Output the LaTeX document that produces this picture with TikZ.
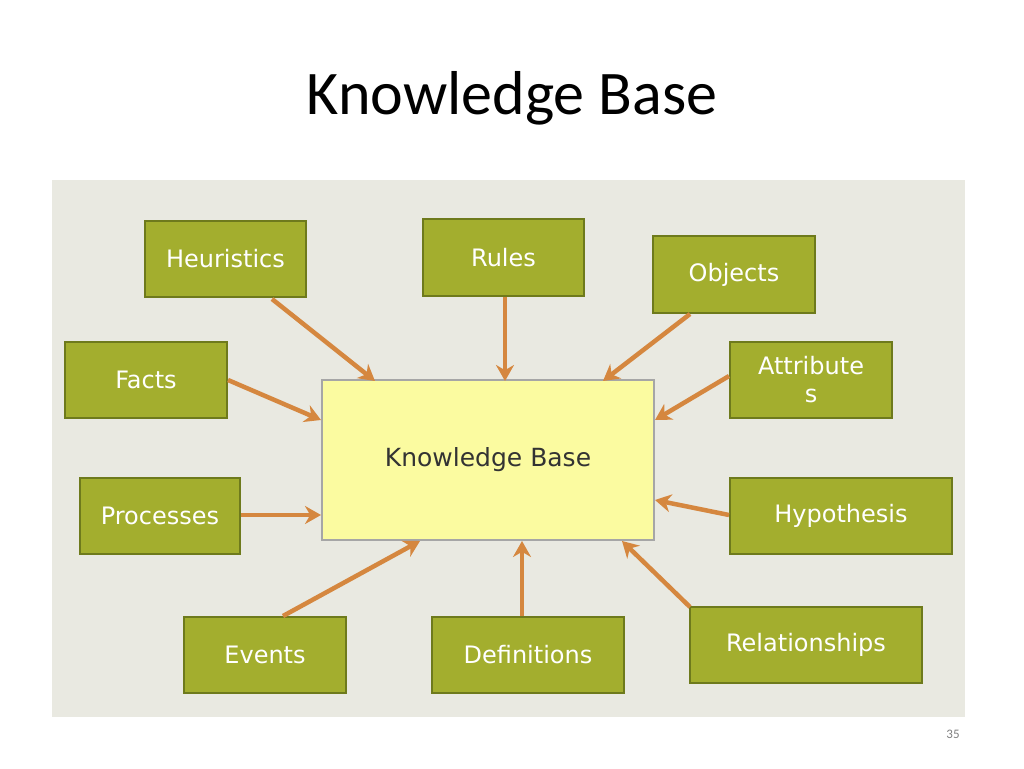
\documentclass[tikz,border=0pt]{standalone}
\usepackage{fontspec}
\usetikzlibrary{arrows.meta}
\setmainfont{Carlito}
\newfontfamily\boxfont{DejaVu Sans}
\begin{document}
\begin{tikzpicture}[x=1pt,y=-1pt,
  gbox/.style={draw=gbord,line width=2.5pt,fill=gfill,text=white,font=\boxfont\fontsize{24}{28}\selectfont,inner sep=0pt,align=center},
  arr/.style={draw=aorange,line width=4.5pt,-{Stealth[length=16pt,width=18pt]}}]
\definecolor{gfill}{HTML}{A3AE2E}
\definecolor{gbord}{HTML}{6E7A1C}
\definecolor{panel}{HTML}{E9E9E1}
\definecolor{aorange}{HTML}{D5873F}
\definecolor{kbfill}{HTML}{FBFBA0}
\useasboundingbox (0,0) rectangle (1024,768);
\fill[white] (0,0) rectangle (1024,768);
\node[font=\fontsize{62}{70}\selectfont] (title) at (512,98) {Knowledge Base};
\fill[panel] (52,180) rectangle (965,717);
\node[draw=gray!70,line width=1.5pt,fill=kbfill,minimum width=332pt,minimum height=160pt,font=\boxfont\fontsize{25}{30}\selectfont,text=black!80] (kb) at (488,460) {Knowledge Base};
\newcommand{\gb}[6]{\node[gbox,minimum width=#4pt,minimum height=#5pt] (#1) at (#2,#3) {#6};}
\gb{heu}{225.5}{259}{161}{76}{Heuristics}
\gb{rul}{503.5}{257.5}{161}{77}{Rules}
\gb{obj}{734}{274.5}{162}{77}{Objects}
\gb{fac}{146}{380}{162}{76}{Facts}
\gb{att}{811}{380}{162}{76}{Attribute\\s}
\gb{pro}{160}{516}{160}{76}{Processes}
\gb{hyp}{841}{516}{222}{76}{Hypothesis}
\gb{eve}{265}{655}{162}{76}{Events}
\gb{def}{528}{655}{192}{76}{Definitions}
\gb{rel}{806}{645}{232}{76}{Relationships}
\coordinate (heuE) at (272,299); \coordinate (kbA) at (375,381);
\coordinate (rulE) at (505,297); \coordinate (kbB) at (505,381);
\coordinate (objE) at (690,314); \coordinate (kbC) at (603,381);
\coordinate (facE) at (228,380); \coordinate (kbD) at (321,420);
\coordinate (attE) at (729,376); \coordinate (kbE) at (655,420);
\coordinate (proE) at (241,515); \coordinate (kbF) at (321,515);
\coordinate (hypE) at (729,515); \coordinate (kbG) at (655,500);
\coordinate (eveE) at (283,616); \coordinate (kbH) at (420,541);
\coordinate (defE) at (522,616); \coordinate (kbI) at (522,541);
\coordinate (relE) at (690,607); \coordinate (kbJ) at (622,541);
\draw[arr] (heuE) -- (kbA);
\draw[arr] (rulE) -- (kbB);
\draw[arr] (objE) -- (kbC);
\draw[arr] (facE) -- (kbD);
\draw[arr] (attE) -- (kbE);
\draw[arr] (proE) -- (kbF);
\draw[arr] (hypE) -- (kbG);
\draw[arr] (eveE) -- (kbH);
\draw[arr] (defE) -- (kbI);
\draw[arr] (relE) -- (kbJ);
\node[text=gray,font=\fontsize{13}{15}\selectfont] (pg) at (953,734) {35};
\end{tikzpicture}
\end{document}
